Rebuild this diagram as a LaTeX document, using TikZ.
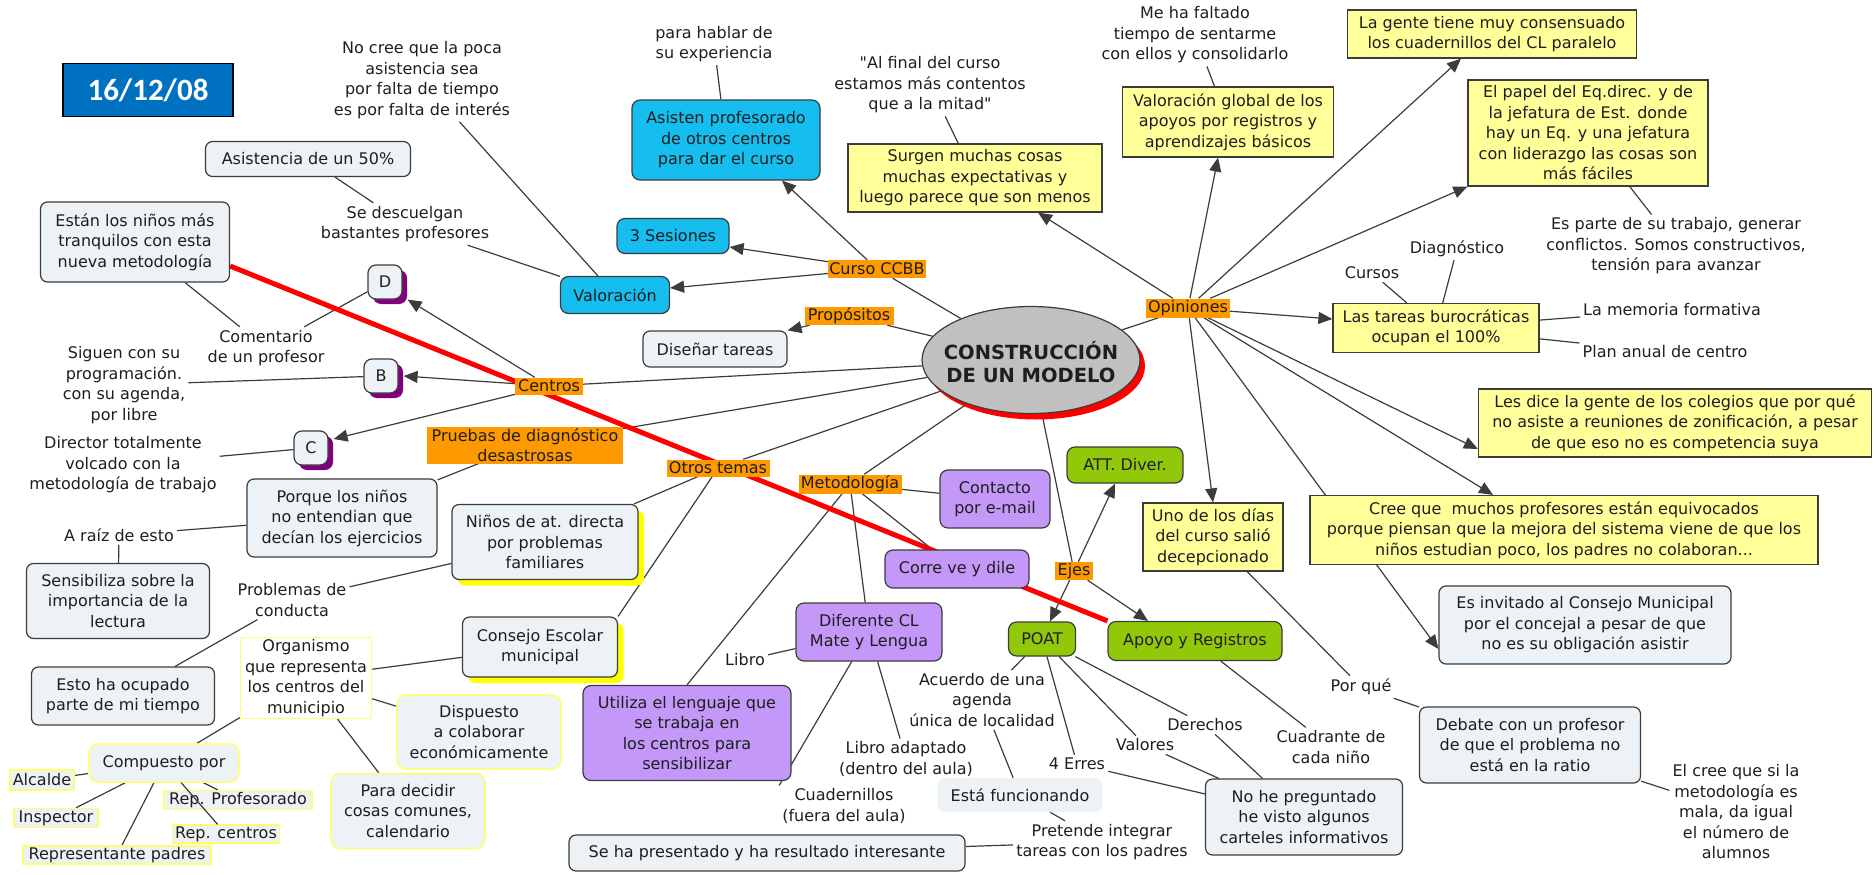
\documentclass[tikz,border=0pt]{standalone}
\usepackage{fontspec}
\setmainfont{DejaVu Sans}[Ligatures=TeXOff]
\newfontfamily\datefont{Carlito}
\usetikzlibrary{arrows.meta,shapes.geometric,shadows,backgrounds}

\definecolor{ink}{RGB}{30,30,30}
\definecolor{edge}{RGB}{60,60,60}
\definecolor{paleblue}{RGB}{236,242,245}
\definecolor{skyfill}{RGB}{22,190,240}
\definecolor{datefill}{RGB}{0,112,192}
\definecolor{lemon}{RGB}{255,255,153}
\definecolor{amber}{RGB}{255,153,0}
\definecolor{lilac}{RGB}{196,152,248}
\definecolor{leaf}{RGB}{146,200,10}
\definecolor{ellgray}{RGB}{192,192,192}
\definecolor{plum}{RGB}{128,0,128}
\definecolor{brightyel}{RGB}{255,255,0}
\definecolor{softyel}{RGB}{255,255,110}
\definecolor{redline}{RGB}{255,0,0}

\newcommand{\txtsize}{\fontsize{16}{20.5}\selectfont}

\begin{document}
\begin{tikzpicture}[x=1pt,y=-1pt,
  base/.style={font=\txtsize, text=ink, align=center, inner sep=2pt},
  plaintxt/.style={base, inner sep=3pt},
  conc/.style={base, fill=paleblue, draw=edge, line width=1.2pt, rounded corners=7pt},
  yelbox/.style={base, fill=lemon, draw=edge, line width=1.2pt},
  blubox/.style={base, fill=skyfill, draw=edge, line width=1.2pt, rounded corners=8pt},
  purbox/.style={base, fill=lilac, draw=edge, line width=1.2pt, rounded corners=8pt},
  grnbox/.style={base, fill=leaf, draw=edge, line width=1.2pt, rounded corners=8pt},
  linkw/.style={base, fill=amber, inner sep=1pt},
  letterbox/.style={conc, rounded corners=8pt, minimum width=34, minimum height=34,
     drop shadow={shadow xshift=5pt, shadow yshift=-5pt, fill=plum, opacity=1}},
  yshadowbox/.style={conc, drop shadow={shadow xshift=6pt, shadow yshift=-6pt, fill=brightyel, opacity=1}},
  yedge/.style={base, fill=paleblue, draw=softyel, line width=1.5pt},
  conn/.style={draw=edge, line width=1.2pt},
  arr/.style={conn, -{Triangle[length=14pt,width=12pt]}},
  redconn/.style={draw=redline, line width=5pt},
]
\useasboundingbox (0,0) rectangle (1876,875);

% ---------- central concept ----------
\node[ellipse, draw=edge, line width=1.2pt, fill=ellgray, minimum width=218, minimum height=107,
      drop shadow={shadow xshift=5pt, shadow yshift=-6pt, fill=redline, opacity=1}] (ell) at (1031,360) {};
\node[font=\bfseries\fontsize{19.5}{23}\selectfont, text=ink, align=center] (ellt) at (1031,362) {CONSTRUCCIÓN\\DE UN MODELO};

% ---------- date ----------
\node[draw=black, line width=1.5pt, fill=datefill, minimum width=170, minimum height=53, text=white,
      font=\datefont\bfseries\fontsize{31}{31}\selectfont] (date) at (148,90) {16/12/08};

% ---------- Curso CCBB branch ----------
\node[linkw, minimum width=81, minimum height=18] (curso) at (877,269) {Curso CCBB};
\node[blubox, minimum width=188, minimum height=80] (asisten) at (726,140) {Asisten profesorado\\de otros centros\\para dar el curso};
\node[plaintxt] (parahablar) at (714,44) {para hablar de\\su experiencia};
\node[blubox, minimum width=112, minimum height=35] (tres) at (673,236) {3 Sesiones};
\node[blubox, minimum width=109, minimum height=37] (valoracion) at (615,295) {Valoración};
\node[plaintxt] (nocree) at (422,80) {No cree que la poca\\asistencia sea\\por falta de tiempo\\es por falta de interés};
\node[plaintxt] (sedesc) at (405,224) {Se descuelgan\\bastantes profesores};
\node[conc, minimum width=205, minimum height=35] (asist) at (308,159) {Asistencia de un 50\%};

% ---------- Propósitos ----------
\node[linkw, minimum width=89, minimum height=18] (propositos) at (849,316) {Propósitos};
\node[conc, minimum width=144, minimum height=36] (disenar) at (715,349) {Diseñar tareas};

% ---------- Centros ----------
\node[linkw, minimum width=68, minimum height=17] (centros) at (549,386) {Centros};
\node[letterbox] (D) at (385,282) {D};
\node[letterbox] (B) at (381,376) {B};
\node[letterbox] (C) at (311,448) {C};
\node[conc, minimum width=189, minimum height=80] (esta) at (135,242) {Están los niños más\\tranquilos con esta\\nueva metodología};
\node[plaintxt] (comment) at (266,348) {Comentario\\de un profesor};
\node[plaintxt] (siguen) at (124,385) {Siguen con su\\programación.\\con su agenda,\\por libre};
\node[plaintxt] (director) at (123,465) {Director totalmente\\volcado con la\\metodología de trabajo};

% ---------- Pruebas ----------
\node[linkw, minimum width=196, minimum height=37] (pruebas) at (525,445) {Pruebas de diagnóstico\\desastrosas};
\node[conc, minimum width=190, minimum height=78] (porque) at (342,518) {Porque los niños\\no entendian que\\decían los ejercicios};
\node[plaintxt] (araiz) at (119,535) {A raíz de esto};
\node[conc, minimum width=183, minimum height=75] (sensib) at (118,601) {Sensibiliza sobre la\\importancia de la\\lectura};

% ---------- Otros temas ----------
\node[linkw, minimum width=103, minimum height=17] (otros) at (718,468) {Otros temas};
\node[yshadowbox, minimum width=186, minimum height=75] (ninos) at (545,542) {Niños de at. directa\\por problemas\\familiares};
\node[plaintxt] (problemas) at (292,600) {Problemas de\\conducta};
\node[conc, minimum width=183, minimum height=58] (estoha) at (123,696) {Esto ha ocupado\\parte de mi tiempo};
\node[yshadowbox, minimum width=155, minimum height=60] (consejo) at (540,647) {Consejo Escolar\\municipal};
\node[base, fill=white, draw=softyel, line width=1.5pt, minimum width=131, minimum height=79] (organismo) at (306,678) {Organismo\\que representa\\los centros del\\municipio};
\node[yedge, rounded corners=9pt, minimum width=150, minimum height=38] (compuesto) at (164,763) {Compuesto por};
\node[yedge, inner sep=0pt, minimum width=64, minimum height=20] (alcalde) at (42,780) {Alcalde};
\node[yedge, inner sep=0pt, minimum width=84, minimum height=19] (inspector) at (56,818) {Inspector};
\node[yedge, inner sep=0pt, minimum width=188, minimum height=18] (reppadres) at (117,855) {Representante padres};
\node[yedge, inner sep=0pt, minimum width=148, minimum height=19] (repprof) at (238,800) {Rep. Profesorado};
\node[yedge, inner sep=0pt, minimum width=107, minimum height=18] (repcentros) at (226,834) {Rep. centros};
\node[yedge, rounded corners=9pt, minimum width=154, minimum height=75] (paradecidir) at (408,811) {Para decidir\\cosas comunes,\\calendario};
\node[yedge, rounded corners=9pt, minimum width=164, minimum height=74] (dispuesto) at (479,732) {Dispuesto\\a colaborar\\económicamente};

% ---------- Metodología ----------
\node[linkw, minimum width=103, minimum height=19] (metod) at (850,484) {Metodología};
\node[purbox, minimum width=110, minimum height=58] (contacto) at (995,499) {Contacto\\por e-mail};
\node[purbox, minimum width=144, minimum height=38] (corre) at (957,569) {Corre ve y dile};
\node[purbox, minimum width=146, minimum height=58] (diferente) at (869,632) {Diferente CL\\Mate y Lengua};
\node[purbox, minimum width=208, minimum height=95] (utiliza) at (687,733) {Utiliza el lenguaje que\\se trabaja en\\los centros para\\sensibilizar};
\node[plaintxt] (libro) at (745,660) {Libro};
\node[plaintxt] (cuadern) at (844,806) {Cuadernillos\\(fuera del aula)};
\node[plaintxt] (libroad) at (906,759) {Libro adaptado\\(dentro del aula)};

% ---------- Ejes ----------
\node[linkw, minimum width=38, minimum height=18] (ejes) at (1074,571) {Ejes};
\node[grnbox, minimum width=116, minimum height=36] (att) at (1125,465) {ATT. Diver.};
\node[grnbox, minimum width=67, minimum height=34] (poat) at (1042,639) {POAT};
\node[grnbox, minimum width=174, minimum height=39] (apoyo) at (1195,641) {Apoyo y Registros};
\node[plaintxt] (acuerdo) at (982,700) {Acuerdo de una\\agenda\\única de localidad};
\node[base, fill=paleblue, rounded corners=8pt, minimum width=165, minimum height=34] (estafunc) at (1020,795) {Está funcionando};
\node[plaintxt] (pretende) at (1102,842) {Pretende integrar\\tareas con los padres};
\node[conc, minimum width=396, minimum height=36] (sehapres) at (767,853) {Se ha presentado y ha resultado interesante};
\node[plaintxt] (erres) at (1077,764) {4 Erres};
\node[plaintxt] (valores) at (1145,745) {Valores};
\node[plaintxt] (derechos) at (1205,725) {Derechos};
\node[conc, minimum width=197, minimum height=76] (nohe) at (1304,817) {No he preguntado\\he visto algunos\\carteles informativos};
\node[plaintxt] (cuadrante) at (1331,747) {Cuadrante de\\cada niño};

% ---------- Opiniones ----------
\node[linkw, minimum width=84, minimum height=19] (opiniones) at (1188,308) {Opiniones};
\node[yelbox, minimum width=254, minimum height=68] (surgen) at (975,178) {Surgen muchas cosas\\muchas expectativas y\\luego parece que son menos};
\node[plaintxt] (alfinal) at (930,85) {"Al final del curso\\estamos más contentos\\que a la mitad"};
\node[yelbox, minimum width=211, minimum height=70] (valglobal) at (1228,122) {Valoración global de los\\apoyos por registros y\\aprendizajes básicos};
\node[plaintxt] (meha) at (1195,35) {Me ha faltado\\tiempo de sentarme\\con ellos y consolidarlo};
\node[yelbox, minimum width=289, minimum height=48] (lagente) at (1492,34) {La gente tiene muy consensuado\\los cuadernillos del CL paralelo};
\node[yelbox, minimum width=240, minimum height=106] (elpapel) at (1588,133) {El papel del Eq.direc. y de\\la jefatura de Est. donde\\hay un Eq. y una jefatura\\con liderazgo las cosas son\\más fáciles};
\node[plaintxt] (esparte) at (1676,246) {Es parte de su trabajo, generar\\conflictos. Somos constructivos,\\tensión para avanzar};
\node[yelbox, minimum width=206, minimum height=49] (tareas) at (1436,328) {Las tareas burocráticas\\ocupan el 100\%};
\node[plaintxt] (diagn) at (1457,249) {Diagnóstico};
\node[plaintxt] (cursos) at (1372,273) {Cursos};
\node[plaintxt] (memoria) at (1672,310) {La memoria formativa};
\node[plaintxt] (plan) at (1665,352) {Plan anual de centro};
\node[yelbox, minimum width=393, minimum height=68] (lesdice) at (1675,423) {Les dice la gente de los colegios que por qué\\no asiste a reuniones de zonificación, a pesar\\de que eso no es competencia suya};
\node[yelbox, minimum width=508, minimum height=69] (cree) at (1564,530) {Cree que\ \ muchos profesores están equivocados\\porque piensan que la mejora del sistema viene de que los\\niños estudian poco, los padres no colaboran...};
\node[conc, minimum width=292, minimum height=78] (invitado) at (1585,625) {Es invitado al Consejo Municipal\\por el concejal a pesar de que\\no es su obligación asistir};
\node[yelbox, minimum width=140, minimum height=68] (uno) at (1213,537) {Uno de los días\\del curso salió\\decepcionado};
\node[plaintxt] (porq) at (1361,687) {Por qué};
\node[conc, minimum width=221, minimum height=76] (debate) at (1530,745) {Debate con un profesor\\de que el problema no\\está en la ratio};
\node[plaintxt] (elcree) at (1736,812) {El cree que si la\\metodología es\\mala, da igual\\el número de\\alumnos};

% ---------- connectors ----------
\begin{scope}[on background layer]
  % Curso CCBB
  \draw[conn] (ell) -- (curso);
  \draw[arr] (curso) -- ([xshift=56pt]asisten.south);
  \draw[arr] (curso) -- ([yshift=-11pt]tres.east);
  \draw[arr] (curso) -- ([yshift=7pt]valoracion.east);
  \draw[conn] (asisten) -- (parahablar);
  \draw[conn] (nocree) -- (valoracion);
  \draw[conn] (sedesc) -- (valoracion);
  \draw[conn] (asist) -- (sedesc);
  % Propósitos
  \draw[conn] (ell) -- (propositos);
  \draw[arr] (propositos) -- (disenar.north east);
  % Centros
  \draw[conn] (ell) -- (centros);
  \draw[arr] (centros) -- ([xshift=5pt]D.south east);
  \draw[arr] (centros) -- ([xshift=5pt]B.east);
  \draw[arr] (centros) -- ([xshift=5pt,yshift=9pt]C.east);
  \draw[conn] (esta) -- (comment);
  \draw[conn] (comment) -- (D);
  \draw[conn] (siguen) -- (B);
  \draw[conn] (director) -- (C);
  % Pruebas
  \draw[conn] (ell) -- (pruebas);
  \draw[conn] (pruebas) -- (porque);
  \draw[conn] (porque) -- (araiz);
  \draw[conn] (araiz) -- (sensib);
  % Otros temas
  \draw[conn] (ell) -- (otros);
  \draw[conn] (otros) -- (ninos);
  \draw[conn] (otros) -- (consejo.north east);
  \draw[conn] (ninos) -- (problemas);
  \draw[conn] (problemas) -- (estoha);
  \draw[conn] (consejo) -- (organismo);
  \draw[conn] (organismo) -- (dispuesto);
  \draw[conn] (organismo) -- (paradecidir);
  \draw[conn] (organismo) -- (compuesto);
  \draw[conn] (compuesto) -- (alcalde);
  \draw[conn] (compuesto) -- (inspector);
  \draw[conn] (compuesto) -- (reppadres);
  \draw[conn] (compuesto) -- (repprof);
  % Metodología
  \draw[conn] (ell) -- (metod);
  \draw[conn] (metod) -- (contacto);
  \draw[conn] (metod) -- (corre);
  \draw[conn] (metod) -- (diferente);
  \draw[conn] (metod) -- (utiliza.north);
  \draw[conn] (libro) -- (diferente);
  \draw[conn] (diferente) -- (cuadern.north west);
  \draw[conn] (diferente) -- (libroad);
  % Ejes
  \draw[conn] (ell) -- (ejes);
  \draw[arr] (ejes) -- ([xshift=-10pt]att.south);
  \draw[arr] (ejes) -- ([xshift=8pt]poat.north);
  \draw[arr] (ejes) -- ([xshift=-47pt]apoyo.north);
  \draw[conn] (poat) -- (acuerdo);
  \draw[conn] (acuerdo) -- (estafunc);
  \draw[conn] (estafunc) -- (pretende);
  \draw[conn] (pretende) -- (sehapres);
  \draw[conn] (poat) -- (erres);
  \draw[conn] (poat) -- (valores);
  \draw[conn] (poat) -- (derechos);
  \draw[conn] (erres) -- (nohe);
  \draw[conn] (valores) -- (nohe);
  \draw[conn] (derechos) -- (nohe);
  \draw[conn] (apoyo) -- (cuadrante);
  % Opiniones
  \draw[conn] (ell) -- (opiniones);
  \draw[arr] (opiniones) -- ([xshift=63pt]surgen.south);
  \draw[conn] (alfinal) -- (surgen);
  \draw[arr] (opiniones) -- ([xshift=-10pt]valglobal.south);
  \draw[conn] (valglobal) -- (meha);
  \draw[arr] (opiniones) -- ([xshift=-31pt]lagente.south);
  \draw[arr] (opiniones) -- (elpapel.south west);
  \draw[conn] (elpapel) -- (esparte);
  \draw[arr] (opiniones) -- ([yshift=9pt]tareas.west);
  \draw[conn] (diagn) -- (tareas);
  \draw[conn] (cursos) -- (tareas);
  \draw[conn] (tareas) -- (memoria);
  \draw[conn] (tareas) -- (plan);
  \draw[arr] (opiniones) -- ([yshift=-26pt]lesdice.west);
  \draw[arr] (opiniones) -- ([xshift=-71pt]cree.north);
  \draw[arr] (opiniones) -- ([yshift=-24pt]invitado.west);
  \draw[arr] (opiniones) -- (uno.north);
  \draw[conn] (uno) -- (porq);
  \draw[conn] (porq) -- (debate);
  \draw[conn] (debate) -- (elcree);
  % highlighted path
  \draw[redconn] ([yshift=-24pt]esta.east) -- (apoyo.north west);
\end{scope}
\draw[conn] (compuesto) -- (repcentros);

\end{tikzpicture}
\end{document}
